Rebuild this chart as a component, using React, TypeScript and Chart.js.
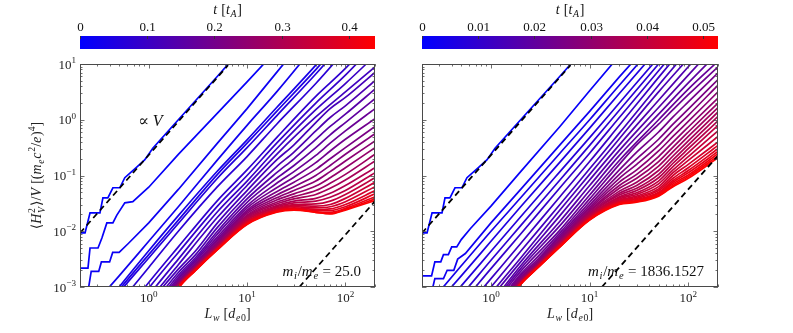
import React, { useEffect, useRef } from "react";
import { Chart, registerables } from "chart.js";

Chart.register(...registerables);

const FONT = '"Liberation Serif", "DejaVu Serif", serif';

// ---------------- data (log10 of <H_V^2>/V) ----------------
const L_GRID_BLUE = [0.2, 0.5, 1, 2, 5, 10, 20, 50, 100, 200];
const L_GRID_BUNDLE = [1, 2, 3, 5, 10, 20, 30, 50, 70, 100, 200];

// first curve (t = 0), identical in both runs, with its staircase at small L
const FIRST_L = [0.2, 0.225, 0.253, 0.319, 0.342, 0.384, 0.432, 0.508, 0.571, 0.755, 0.909, 1.1, 2, 5, 10];
const FIRST_LOGH = [-2.03, -2.03, -1.67, -1.67, -1.4, -1.4, -1.22, -1.22, -1.04, -0.85, -0.72, -0.51, 0.0, 0.78, 1.38];

// left run (m_i/m_e = 25)
const LEFT_T_STEP = [0, 0.01, 0.02];
const LEFT_SECOND_L = [0.2, 0.241, 0.253, 0.305, 0.334, 0.375, 0.432, 0.474, 0.571, 0.689, 1, 2, 5, 10, 20];
const LEFT_SECOND_LOGH = [-2.66, -2.66, -2.3, -2.3, -2.12, -1.85, -1.85, -1.71, -1.49, -1.47, -1.21, -0.62, 0.12, 0.68, 1.25];
const LEFT_THIRD_L = [0.24, 0.26, 0.31, 0.33, 0.4, 0.43, 0.5, 0.62, 1, 2, 5, 10, 20, 50];
const LEFT_THIRD_LOGH = [-3.1, -2.72, -2.72, -2.55, -2.55, -2.38, -2.38, -2.22, -1.85, -1.25, -0.42, 0.2, 0.85, 1.7];

const LEFT_T_BLUE = [0.03, 0.04, 0.05, 0.06, 0.07, 0.08, 0.09, 0.1, 0.11];
const LEFT_LOGH_BLUE = [
  [-3.6, -2.8, -2.18, -1.56, -0.72, -0.1, 0.5, 1.35],
  [-3.9, -3.0, -2.35, -1.72, -0.92, -0.36, 0.22, 0.98, 1.6],
  [-3.95, -3.05, -2.42, -1.8, -0.98, -0.42, 0.15, 0.9, 1.5],
  [-4.0, -3.1, -2.48, -1.86, -1.05, -0.5, 0.07, 0.82, 1.42],
  [-4.2, -3.3, -2.65, -2.0, -1.2, -0.66, -0.08, 0.65, 1.25],
  [-4.5, -3.6, -2.92, -2.28, -1.45, -0.9, -0.32, 0.42, 0.92, 1.5],
  [-4.6, -3.7, -3.02, -2.38, -1.55, -1.0, -0.42, 0.3, 0.8, 1.35],
  [-4.8, -3.85, -3.15, -2.5, -1.65, -1.1, -0.52, 0.18, 0.65, 1.15],
  [-4.9, -3.95, -3.25, -2.6, -1.75, -1.18, -0.62, 0.05, 0.5, 0.95],
];

const LEFT_T_BUNDLE = [0.12, 0.135, 0.15, 0.165, 0.18, 0.195, 0.21, 0.225, 0.24, 0.255, 0.27, 0.285, 0.3, 0.315, 0.33, 0.345, 0.36, 0.375, 0.39, 0.405, 0.42, 0.435];
// one row per L in L_GRID_BUNDLE, one column per time
const LEFT_BUNDLE_LOGH_BY_L = [
  [-3.3, -3.4, -3.48, -3.55, -3.6, -3.65, -3.68, -3.71, -3.74, -3.76, -3.78, -3.8, -3.81, -3.82, -3.83, -3.84, -3.85, -3.86, -3.87, -3.88, -3.89, -3.9],
  [-2.68, -2.74, -2.79, -2.83, -2.86, -2.89, -2.91, -2.93, -2.94, -2.95, -2.96, -2.97, -2.98, -2.98, -2.99, -2.99, -3.0, -3.0, -3.01, -3.01, -3.02, -3.02],
  [-2.35, -2.42, -2.47, -2.51, -2.54, -2.57, -2.59, -2.61, -2.62, -2.63, -2.64, -2.65, -2.66, -2.66, -2.67, -2.67, -2.68, -2.68, -2.69, -2.69, -2.7, -2.7],
  [-1.85, -1.93, -2.0, -2.05, -2.1, -2.14, -2.17, -2.2, -2.22, -2.24, -2.26, -2.27, -2.28, -2.29, -2.3, -2.3, -2.31, -2.31, -2.32, -2.32, -2.33, -2.33],
  [-1.27, -1.35, -1.42, -1.48, -1.54, -1.58, -1.62, -1.65, -1.68, -1.71, -1.73, -1.75, -1.77, -1.79, -1.8, -1.82, -1.83, -1.84, -1.85, -1.86, -1.87, -1.88],
  [-0.72, -0.84, -0.95, -1.05, -1.14, -1.22, -1.29, -1.35, -1.4, -1.44, -1.48, -1.51, -1.54, -1.56, -1.58, -1.6, -1.61, -1.62, -1.63, -1.64, -1.65, -1.66],
  [-0.45, -0.58, -0.7, -0.82, -0.93, -1.03, -1.12, -1.2, -1.27, -1.33, -1.38, -1.42, -1.46, -1.49, -1.52, -1.54, -1.56, -1.58, -1.59, -1.6, -1.61, -1.62],
  [-0.05, -0.2, -0.35, -0.5, -0.64, -0.77, -0.89, -1.0, -1.1, -1.19, -1.27, -1.34, -1.41, -1.46, -1.51, -1.55, -1.58, -1.61, -1.63, -1.65, -1.66, -1.66],
  [0.2, 0.04, -0.12, -0.27, -0.42, -0.56, -0.7, -0.82, -0.93, -1.04, -1.14, -1.23, -1.32, -1.39, -1.46, -1.52, -1.56, -1.6, -1.63, -1.66, -1.68, -1.69],
  [0.4, 0.25, 0.1, -0.05, -0.2, -0.35, -0.5, -0.62, -0.74, -0.86, -0.98, -1.08, -1.18, -1.27, -1.34, -1.41, -1.47, -1.52, -1.56, -1.59, -1.61, -1.62],
  [0.85, 0.7, 0.55, 0.38, 0.2, 0.02, -0.12, -0.25, -0.38, -0.5, -0.62, -0.74, -0.86, -0.95, -1.04, -1.12, -1.2, -1.27, -1.33, -1.38, -1.42, -1.45],
];

// right run (m_i/m_e = 1836.1527)
const RIGHT_T_STEP = [0, 0.0015, 0.003];
const RIGHT_SECOND_L = [0.2, 0.25, 0.27, 0.31, 0.33, 0.37, 0.4, 0.45, 0.5, 0.62, 1, 2, 5, 10, 20];
const RIGHT_SECOND_LOGH = [-2.8, -2.8, -2.55, -2.55, -2.42, -2.42, -2.28, -2.28, -2.15, -1.95, -1.55, -0.93, -0.12, 0.52, 1.15];
const RIGHT_THIRD_L = [0.25, 0.27, 0.33, 0.36, 0.42, 0.46, 0.55, 1, 2, 5, 10, 20, 50];
const RIGHT_THIRD_LOGH = [-3.1, -2.85, -2.85, -2.7, -2.7, -2.5, -2.4, -1.85, -1.25, -0.45, 0.15, 0.77, 1.55];

const RIGHT_T_BLUE = [0.0045, 0.006, 0.0075, 0.009, 0.0105, 0.012, 0.0135, 0.015, 0.0165, 0.018, 0.0195, 0.021];
const RIGHT_LOGH_BLUE = [
  [-3.45, -2.62, -2.0, -1.4, -0.6, 0.0, 0.62, 1.42],
  [-3.6, -2.8, -2.18, -1.56, -0.76, -0.15, 0.47, 1.28],
  [-3.8, -2.98, -2.36, -1.74, -0.93, -0.32, 0.3, 1.12, 1.73],
  [-3.95, -3.15, -2.52, -1.9, -1.08, -0.46, 0.17, 1.0, 1.62],
  [-4.1, -3.3, -2.67, -2.05, -1.22, -0.6, 0.04, 0.88, 1.5],
  [-4.3, -3.48, -2.85, -2.22, -1.38, -0.75, -0.1, 0.76, 1.4],
  [-4.45, -3.62, -3.0, -2.36, -1.52, -0.88, -0.24, 0.62, 1.25],
  [-4.6, -3.8, -3.12, -2.48, -1.62, -0.98, -0.34, 0.5, 1.1, 1.7],
  [-4.7, -3.9, -3.2, -2.55, -1.72, -1.08, -0.45, 0.35, 0.95, 1.55],
  [-4.8, -4.0, -3.3, -2.62, -1.82, -1.18, -0.55, 0.22, 0.8, 1.38],
  [-4.9, -4.1, -3.35, -2.67, -1.9, -1.27, -0.64, 0.1, 0.66, 1.2],
  [-5.0, -4.2, -3.4, -2.72, -1.98, -1.35, -0.73, 0.0, 0.55, 1.05],
];

const RIGHT_T_BUNDLE = [0.0225, 0.024, 0.0255, 0.027, 0.0285, 0.03, 0.0315, 0.033, 0.0345, 0.036, 0.0375, 0.039, 0.0405, 0.042, 0.0435, 0.045, 0.0465, 0.048, 0.0495, 0.051, 0.0525];
const RIGHT_BUNDLE_LOGH_BY_L = [
  [-3.45, -3.48, -3.5, -3.53, -3.56, -3.58, -3.6, -3.62, -3.63, -3.64, -3.65, -3.66, -3.67, -3.68, -3.68, -3.69, -3.69, -3.7, -3.7, -3.7, -3.7],
  [-2.77, -2.8, -2.83, -2.85, -2.87, -2.88, -2.89, -2.9, -2.91, -2.92, -2.92, -2.93, -2.93, -2.93, -2.94, -2.94, -2.94, -2.95, -2.95, -2.95, -2.95],
  [-2.45, -2.5, -2.53, -2.55, -2.57, -2.58, -2.59, -2.6, -2.61, -2.61, -2.62, -2.62, -2.63, -2.63, -2.63, -2.64, -2.64, -2.64, -2.65, -2.65, -2.65],
  [-2.03, -2.07, -2.1, -2.13, -2.15, -2.17, -2.19, -2.2, -2.21, -2.22, -2.23, -2.24, -2.24, -2.25, -2.25, -2.26, -2.26, -2.27, -2.27, -2.28, -2.28],
  [-1.42, -1.48, -1.53, -1.57, -1.6, -1.63, -1.65, -1.67, -1.69, -1.7, -1.72, -1.73, -1.74, -1.75, -1.76, -1.77, -1.77, -1.78, -1.79, -1.79, -1.8],
  [-0.8, -0.9, -0.98, -1.05, -1.12, -1.18, -1.23, -1.28, -1.32, -1.35, -1.38, -1.4, -1.42, -1.44, -1.46, -1.47, -1.48, -1.49, -1.5, -1.51, -1.52],
  [-0.45, -0.58, -0.7, -0.8, -0.9, -0.98, -1.05, -1.12, -1.18, -1.23, -1.27, -1.31, -1.34, -1.37, -1.39, -1.41, -1.43, -1.45, -1.46, -1.47, -1.48],
  [-0.08, -0.22, -0.35, -0.46, -0.56, -0.66, -0.75, -0.83, -0.91, -0.98, -1.04, -1.1, -1.15, -1.2, -1.24, -1.27, -1.3, -1.32, -1.34, -1.36, -1.37],
  [0.18, 0.05, -0.08, -0.19, -0.3, -0.4, -0.49, -0.57, -0.65, -0.72, -0.78, -0.84, -0.9, -0.95, -1.0, -1.05, -1.09, -1.12, -1.15, -1.18, -1.2],
  [0.45, 0.32, 0.19, 0.08, -0.03, -0.13, -0.22, -0.3, -0.38, -0.45, -0.52, -0.59, -0.66, -0.73, -0.8, -0.86, -0.91, -0.95, -0.99, -1.02, -1.05],
  [0.95, 0.84, 0.72, 0.62, 0.5, 0.39, 0.3, 0.22, 0.14, 0.06, -0.02, -0.1, -0.2, -0.3, -0.4, -0.46, -0.52, -0.57, -0.61, -0.65, -0.68],
];

// dashed reference lines (∝ V)
const DASH_V_L = [0.2, 6.4];
const DASH_V_H = [0.0093, 9.5];
const LEFT_DASH_L = [34, 200];
const LEFT_DASH_H = [0.001, 0.0346];
const RIGHT_DASH_L = [13.3, 200];
const RIGHT_DASH_H = [0.001, 0.226];

// colour bars and axes
const LEFT_T_MAX = 0.4387;
const RIGHT_T_MAX = 0.0527;
const LEFT_CB_TICKS = [0, 0.1, 0.2, 0.3, 0.4];
const RIGHT_CB_TICKS = [0, 0.01, 0.02, 0.03, 0.04, 0.05];
const X_TICK_VALUES = [1, 10, 100];
const X_TICK_EXP = ["0", "1", "2"];
const Y_TICK_VALUES = [0.001, 0.01, 0.1, 1, 10];
const Y_TICK_EXP = ["\u22123", "\u22122", "\u22121", "0", "1"];

// ---------------- rich text helper ----------------
type Run = { t?: string; it?: boolean; sub?: boolean; sup?: boolean; stack?: [string, string] };

function fontFor(size: number, it?: boolean) {
  return `${it ? "italic " : ""}${size}px ${FONT}`;
}
function runWidth(ctx: CanvasRenderingContext2D, r: Run, size: number) {
  if (r.stack) {
    const s = size * 0.7;
    ctx.font = fontFor(s, false);
    const a = ctx.measureText(r.stack[0]).width;
    ctx.font = fontFor(s, true);
    const b = ctx.measureText(r.stack[1]).width;
    return Math.max(a, b) + 1;
  }
  const s = r.sub || r.sup ? size * 0.7 : size;
  ctx.font = fontFor(s, r.it);
  return ctx.measureText(r.t || "").width + (r.it ? size * 0.05 : 0);
}
function drawRich(ctx: CanvasRenderingContext2D, runs: Run[], x: number, y: number, size: number, align: "left" | "center" | "right") {
  const widths = runs.map((r) => runWidth(ctx, r, size));
  const total = widths.reduce((a, b) => a + b, 0);
  let cx = align === "left" ? x : align === "right" ? x - total : x - total / 2;
  ctx.textAlign = "left";
  ctx.textBaseline = "alphabetic";
  runs.forEach((r, i) => {
    if (r.stack) {
      const s = size * 0.7;
      ctx.font = fontFor(s, false);
      ctx.fillText(r.stack[0], cx, y - size * 0.42);
      ctx.font = fontFor(s, true);
      ctx.fillText(r.stack[1], cx, y + size * 0.25);
    } else {
      const s = r.sub || r.sup ? size * 0.7 : size;
      ctx.font = fontFor(s, r.it);
      const dy = r.sub ? size * 0.22 : r.sup ? -size * 0.42 : 0;
      ctx.fillText(r.t || "", cx, y + dy);
    }
    cx += widths[i];
  });
}

const Y_TITLE: Run[] = [
  { t: "\u27E8" }, { t: "H", it: true }, { stack: ["2", "V"] }, { t: "\u27E9/" }, { t: "V", it: true },
  { t: " [(" }, { t: "m", it: true }, { t: "e", it: true, sub: true }, { t: "c", it: true }, { t: "2", sup: true },
  { t: "/" }, { t: "e", it: true }, { t: ")" }, { t: "4", sup: true }, { t: "]" },
];
const X_TITLE: Run[] = [{ t: "L", it: true }, { t: "w", it: true, sub: true }, { t: " [" }, { t: "d", it: true }, { t: "e", it: true, sub: true }, { t: "0", sub: true }, { t: "]" }];
const CB_TITLE: Run[] = [{ t: "t", it: true }, { t: " [" }, { t: "t", it: true }, { t: "A", it: true, sub: true }, { t: "]" }];
const PROP_V: Run[] = [{ t: "\u221D " }, { t: "V", it: true }];
const massRuns = (v: string): Run[] => [
  { t: "m", it: true }, { t: "i", it: true, sub: true }, { t: "/" }, { t: "m", it: true }, { t: "e", it: true, sub: true }, { t: " = " + v },
];

// ---------------- curves ----------------
type Curve = { t: number; L: number[]; logH: number[]; step?: boolean };

function buildCurves(
  stepT: number[], stepL: number[][], stepH: number[][],
  blueT: number[], blueH: number[][],
  bundleT: number[], bundleByL: number[][],
): Curve[] {
  const out: Curve[] = [];
  stepT.forEach((t, i) => out.push({ t, L: stepL[i], logH: stepH[i], step: true }));
  blueT.forEach((t, i) => out.push({ t, L: L_GRID_BLUE.slice(0, blueH[i].length), logH: blueH[i] }));
  bundleT.forEach((t, k) => out.push({ t, L: L_GRID_BUNDLE, logH: bundleByL.map((row) => row[k]) }));
  return out;
}

const LEFT_CURVES = buildCurves(
  LEFT_T_STEP, [FIRST_L, LEFT_SECOND_L, LEFT_THIRD_L], [FIRST_LOGH, LEFT_SECOND_LOGH, LEFT_THIRD_LOGH],
  LEFT_T_BLUE, LEFT_LOGH_BLUE, LEFT_T_BUNDLE, LEFT_BUNDLE_LOGH_BY_L,
);
const RIGHT_CURVES = buildCurves(
  RIGHT_T_STEP, [FIRST_L, RIGHT_SECOND_L, RIGHT_THIRD_L], [FIRST_LOGH, RIGHT_SECOND_LOGH, RIGHT_THIRD_LOGH],
  RIGHT_T_BLUE, RIGHT_LOGH_BLUE, RIGHT_T_BUNDLE, RIGHT_BUNDLE_LOGH_BY_L,
);

function tColor(t: number, tmax: number) {
  const f = Math.max(0, Math.min(1, t / tmax));
  return `rgb(${Math.round(255 * f)},0,${Math.round(255 * (1 - f))})`;
}

type PanelProps = {
  x: number; w: number; yAxisW: number; padRight: number;
  curves: Curve[]; tmax: number; cbTicks: number[];
  dashL: number[]; dashH: number[];
  showYLabels: boolean; showPropV: boolean; mass: string;
};

const FRAME = "#4a4a4a";

function makeDecor(p: PanelProps) {
  return {
    id: "decor",
    afterDraw(chart: any) {
      const ctx: CanvasRenderingContext2D = chart.ctx;
      const { left, right, top, bottom } = chart.chartArea;
      const xs = chart.scales.x, ys = chart.scales.y, cb = chart.scales.cb;
      ctx.save();

      // colour bar
      const c0 = cb.getPixelForValue(0), c1 = cb.getPixelForValue(p.tmax);
      const g = ctx.createLinearGradient(c0, 0, c1, 0);
      g.addColorStop(0, "rgb(0,0,255)");
      g.addColorStop(1, "rgb(255,0,0)");
      ctx.fillStyle = g;
      ctx.fillRect(c0, top - 28, c1 - c0, 13);
      ctx.strokeStyle = "#333";
      ctx.lineWidth = 1;
      ctx.fillStyle = "#111";
      p.cbTicks.forEach((v) => {
        const px = Math.round(cb.getPixelForValue(v)) + 0.5;
        ctx.beginPath();
        ctx.moveTo(px, top - 28);
        ctx.lineTo(px, top - 25);
        ctx.stroke();
        drawRich(ctx, [{ t: String(v) }], px, top - 33, 13, "center");
      });
      drawRich(ctx, CB_TITLE, (c0 + c1) / 2, top - 50, 14, "center");

      // frame
      ctx.strokeStyle = FRAME;
      ctx.lineWidth = 1;
      ctx.strokeRect(Math.round(left) + 0.5, Math.round(top) + 0.5, Math.round(right - left) - 1, Math.round(bottom - top) - 1);

      // ticks (inward, all four sides)
      const tick = (px: number, len: number, horiz: boolean) => {
        ctx.beginPath();
        if (horiz) {
          const xx = Math.round(px) + 0.5;
          ctx.moveTo(xx, bottom); ctx.lineTo(xx, bottom - len);
          ctx.moveTo(xx, top); ctx.lineTo(xx, top + len);
        } else {
          const yy = Math.round(px) + 0.5;
          ctx.moveTo(left, yy); ctx.lineTo(left + len, yy);
          ctx.moveTo(right, yy); ctx.lineTo(right - len, yy);
        }
        ctx.stroke();
      };
      ctx.lineWidth = 0.8;
      [0.1, 1, 10, 100].forEach((d) => {
        for (let k = 1; k <= 9; k++) {
          const v = k * d;
          if (v < 0.2 - 1e-9 || v > 200 + 1e-9) continue;
          tick(xs.getPixelForValue(v), k === 1 ? 4.5 : 2.5, true);
        }
      });
      [0.001, 0.01, 0.1, 1, 10].forEach((d) => {
        for (let k = 1; k <= 9; k++) {
          const v = k * d;
          if (v > 10 + 1e-9) continue;
          tick(ys.getPixelForValue(v), k === 1 ? 4.5 : 2.5, false);
        }
      });

      // tick labels
      ctx.fillStyle = "#222";
      X_TICK_VALUES.forEach((v, i) => {
        drawRich(ctx, [{ t: "10" }, { t: X_TICK_EXP[i], sup: true }], xs.getPixelForValue(v), bottom + 15, 13, "center");
      });
      if (p.showYLabels) {
        Y_TICK_VALUES.forEach((v, i) => {
          drawRich(ctx, [{ t: "10" }, { t: Y_TICK_EXP[i], sup: true }], left - 4, ys.getPixelForValue(v) + 4.5, 13, "right");
        });
        ctx.save();
        ctx.translate(left - 39, (top + bottom) / 2);
        ctx.rotate(-Math.PI / 2);
        drawRich(ctx, Y_TITLE, 0, 0, 14, "center");
        ctx.restore();
      }
      drawRich(ctx, X_TITLE, (left + right) / 2, bottom + 31, 14, "center");

      // annotations
      ctx.fillStyle = "#111";
      if (p.showPropV) drawRich(ctx, PROP_V, left + 58, top + 62, 16, "left");
      drawRich(ctx, massRuns(p.mass), right - 14, bottom - 11, 15, "right");
      ctx.restore();
    },
  };
}

function Panel(p: PanelProps) {
  const ref = useRef<HTMLCanvasElement | null>(null);
  useEffect(() => {
    const n = p.curves.length;
    const datasets: any[] = p.curves.map((c, i) => ({
      data: c.L.map((L, j) => ({ x: L, y: Math.pow(10, c.logH[j]) })),
      borderColor: tColor(c.t, p.tmax),
      borderWidth: 1.7,
      pointRadius: 0,
      fill: false,
      tension: 0,
      cubicInterpolationMode: c.step ? "default" : "monotone",
      order: n - i + 1,
    }));
    const dash = (L: number[], H: number[]) => ({
      data: L.map((x, j) => ({ x, y: H[j] })),
      borderColor: "#000",
      borderWidth: 1.8,
      borderDash: [6, 4],
      pointRadius: 0,
      fill: false,
      order: 0,
    });
    datasets.push(dash(DASH_V_L, DASH_V_H));
    datasets.push(dash(p.dashL, p.dashH));

    const chart = new Chart(ref.current as HTMLCanvasElement, {
      type: "line",
      data: { datasets },
      options: {
        responsive: false,
        animation: false,
        devicePixelRatio: 1,
        events: [],
        layout: { padding: { left: 0, right: p.padRight, top: 64, bottom: 0 } },
        elements: { line: { capBezierPoints: false }, point: { radius: 0 } },
        plugins: { legend: { display: false }, tooltip: { enabled: false } },
        scales: {
          x: {
            type: "logarithmic", min: 0.2, max: 200, bounds: "data", position: "bottom",
            grid: { display: false }, border: { display: false }, ticks: { display: false },
            afterFit: (s: any) => { s.height = 46; },
          },
          y: {
            type: "logarithmic", min: 0.001, max: 10, bounds: "data", position: "left",
            grid: { display: false }, border: { display: false }, ticks: { display: false },
            afterFit: (s: any) => { s.width = p.yAxisW; },
          },
          cb: {
            type: "linear", axis: "x", min: 0, max: p.tmax, bounds: "data", position: "top",
            grid: { display: false }, border: { display: false }, ticks: { display: false },
            afterFit: (s: any) => { s.height = 0; },
          },
        },
      } as any,
      plugins: [makeDecor(p)],
    });
    return () => chart.destroy();
  }, []);
  return (
    <canvas
      ref={ref}
      width={p.w}
      height={333}
      style={{ position: "absolute", left: p.x, top: 0, width: p.w, height: 333 }}
    />
  );
}

export default function App() {
  return (
    <div style={{ position: "absolute", left: 0, top: 0, width: 793, height: 333, background: "#fff" }}>
      <Panel
        x={0} w={400} yAxisW={80} padRight={25}
        curves={LEFT_CURVES} tmax={LEFT_T_MAX} cbTicks={LEFT_CB_TICKS}
        dashL={LEFT_DASH_L} dashH={LEFT_DASH_H}
        showYLabels={true} showPropV={true} mass="25.0"
      />
      <Panel
        x={400} w={393} yAxisW={22} padRight={75}
        curves={RIGHT_CURVES} tmax={RIGHT_T_MAX} cbTicks={RIGHT_CB_TICKS}
        dashL={RIGHT_DASH_L} dashH={RIGHT_DASH_H}
        showYLabels={false} showPropV={false} mass="1836.1527"
      />
    </div>
  );
}
